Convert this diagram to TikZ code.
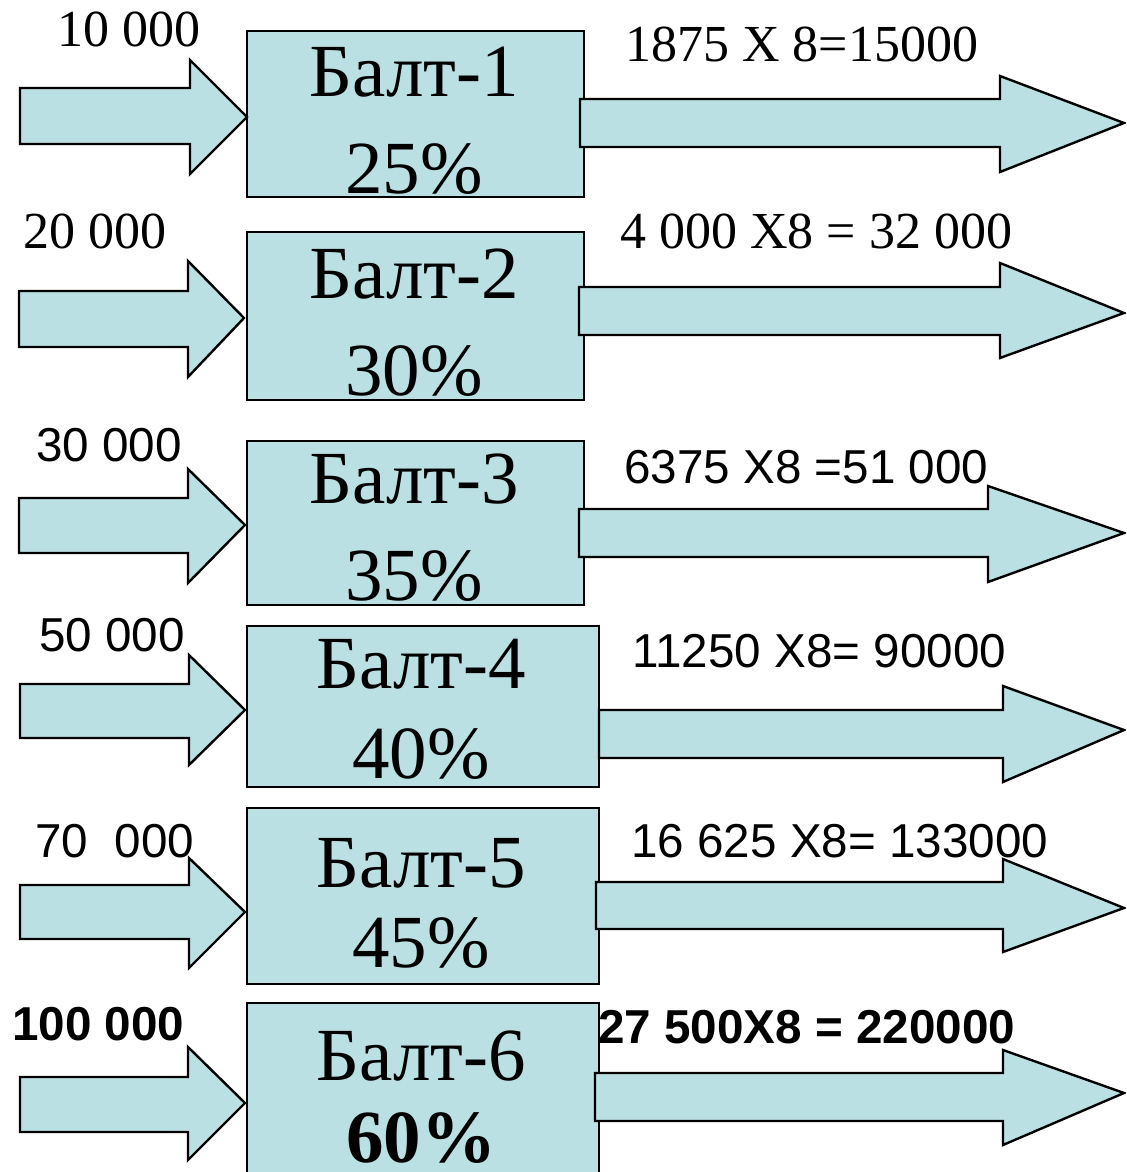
\documentclass[tikz,border=0pt]{standalone}
\usepackage{fontspec}
\setmainfont{Liberation Serif}
\newfontfamily\arialfont{Liberation Sans}
\usepackage{tikz}
\definecolor{boxblue}{RGB}{187,224,227}
% (x start, x head, x tip)(shaft top, shaft bottom)(head top, head bottom, tip y)
\def\blockarrow(#1,#2,#3)(#4,#5)(#6,#7,#8){\draw[blk] (#1,#4) -- (#2,#4) -- (#2,#6) -- (#3,#8) -- (#2,#7) -- (#2,#5) -- (#1,#5) -- cycle;}

\begin{document}
\begin{tikzpicture}[x=0.5pt, y=-0.5pt,
		blk/.style={draw=black, fill=boxblue, line width=1.2pt},
		serif/.style={anchor=base west, inner sep=0pt, font=\fontsize{26}{30}\selectfont},
		sans/.style={anchor=base west, inner sep=0pt, font=\arialfont\fontsize{23.8}{28}\selectfont},
		sansb/.style={sans, font=\arialfont\bfseries\fontsize{23.8}{28}\selectfont},
		big/.style={anchor=base, inner sep=0pt, font=\fontsize{37.5}{44}\selectfont}]
		%%%%% START %%%%%
		\useasboundingbox (0,0) rectangle (1126,1172);
		\clip (0,0) rectangle (1126,1172);
		
		% boxes
		\draw[blk] (247,31) rectangle (584,197);
		\draw[blk] (247,232) rectangle (584,400);
		\draw[blk] (247,441) rectangle (584,605);
		\draw[blk] (247,626) rectangle (599,787);
		\draw[blk] (247,808) rectangle (599,984);
		\draw[blk] (247,1003) rectangle (599,1200);
		
		% arrows in
		\blockarrow(20,190,247)(88,144)(60,174,117)
		\blockarrow(19,188,244)(291,347)(261,377,318)
		\blockarrow(19,188,245)(498,553)(469,583,525)
		\blockarrow(20,189,245)(684,738)(655,765,710)
		\blockarrow(20,189,245)(885,939)(858,968,912)
		\blockarrow(20,188,245)(1077,1132)(1047,1160,1103)
		
		% arrows out
		\blockarrow(580,1000,1124)(99,147)(76,172,123)
		\blockarrow(579,1000,1124)(287,335)(263,358,313)
		\blockarrow(579,988,1124)(509,557)(486,582,533)
		\blockarrow(599,1003,1124)(710,758)(686,782,730)
		\blockarrow(596,1003,1124)(882,929)(859,952,908)
		\blockarrow(595,1003,1124)(1073,1121)(1050,1145,1093)
		
		% box texts
		\node[big] (n1) at (414,97) {Балт-1};
		\node[big] (p1) at (414,193) {25\%};
		\node[big] (n2) at (414,298) {Балт-2};
		\node[big] (p2) at (414,395) {30\%};
		\node[big] (n3) at (414,503) {Балт-3};
		\node[big] (p3) at (414,600) {35\%};
		\node[big] (n4) at (421,688) {Балт-4};
		\node[big] (p4) at (421,778) {40\%};
		\node[big] (n5) at (421,887) {Балт-5};
		\node[big] (p5) at (421,967) {45\%};
		\node[big] (n6) at (421,1080) {Балт-6};
		\node[big, font=\bfseries\fontsize{37.5}{44}\selectfont] (p6) at (421,1162) {60\%};
		
		% amounts in
		\node[serif] (l1) at (57,47) {10 000};
		\node[serif] (l2) at (23,248) {20 000};
		\node[sans] (l3) at (36,461) {30 000};
		\node[sans] (l4) at (39,651) {50 000};
		\node[sans] (l5) at (35,857) {70~~000};
		\node[sansb] (l6) at (12,1040) {100 000};
		
		% amounts out
		\node[serif] (r1) at (625,62) {1875 X 8=15000};
		\node[serif] (r2) at (620,248) {4 000 X8 = 32 000};
		\node[sans] (r3) at (624,483) {6375 X8 =51 000};
		\node[sans] (r4) at (632,667) {11250 X8= 90000};
		\node[sans] (r5) at (631,857) {16 625 X8= 133000};
		\node[sansb] (r6) at (598,1043) {27 500X8 = 220000};
		%%%%% END %%%%%
	\end{tikzpicture}
\end{document}
